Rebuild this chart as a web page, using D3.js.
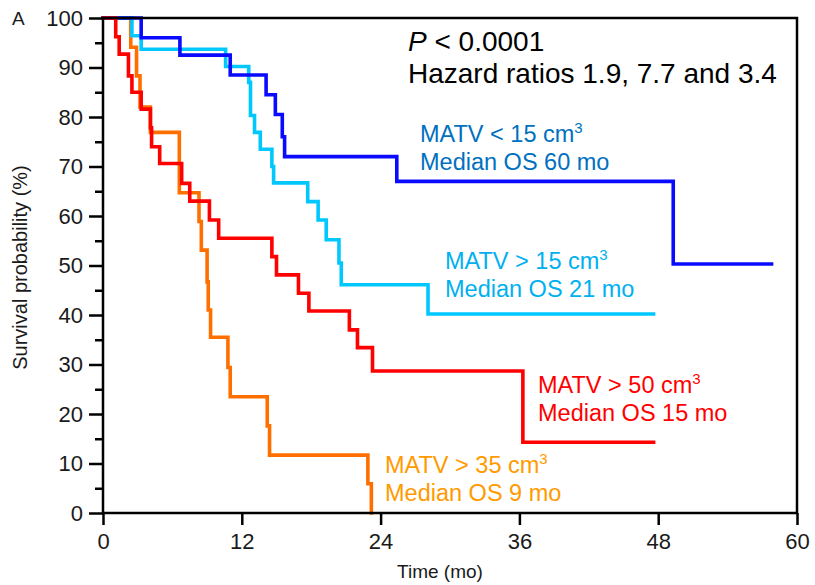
<!DOCTYPE html>
<html>
<head>
<meta charset="utf-8">
<script src="https://cdn.jsdelivr.net/npm/d3@7"></script>
<style>
  body { margin: 0; background: #fff; }
  svg text { font-family: "Liberation Sans", Arial, sans-serif; }
</style>
</head>
<body>
<div id="chart"></div>
<script>
var w = 815, h = 585;
var margin = { top: 18, right: 18, bottom: 72, left: 103 };

// Kaplan-Meier step data (time in months, survival in %)
var blueTimes = [0, 3.3, 6.65, 11.0, 14.1, 14.9, 15.5, 15.7, 25.4, 49.3, 57.8];
var blueSurv = [100, 96, 92.5, 88.5, 84.5, 80.5, 76, 72, 67, 50.3, 50.3];

var cyanTimes = [0, 2.5, 3.3, 10.6, 12.6, 12.75, 13.1, 13.6, 14.6, 14.75, 17.7, 18.6, 19.3, 20.4, 20.6, 28.1, 47.6];
var cyanSurv = [100, 96.4, 93.7, 90.2, 87.0, 80.3, 76.9, 73.5, 70, 66.7, 62.9, 59.2, 55.2, 50.5, 46.1, 40.2, 40.2];

var redTimes = [0, 1.1, 1.4, 2.2, 2.5, 3.3, 4.1, 4.2, 4.9, 6.8, 7.5, 9.2, 10.0, 14.6, 15.0, 16.9, 17.8, 21.3, 22.0, 23.3, 36.3, 47.6];
var redSurv = [100, 96.2, 92.7, 88.3, 85, 81.6, 77.8, 74, 70.6, 66.6, 63, 59.2, 55.5, 51.8, 48.1, 44.4, 40.8, 37, 33.4, 28.7, 14.3, 14.3];

var orangeTimes = [0, 2.4, 2.9, 3.2, 4.1, 6.6, 8.3, 8.5, 9.0, 9.1, 9.3, 10.8, 11.0, 14.2, 14.4, 22.9, 23.2];
var orangeSurv = [100, 94.1, 88.3, 82, 76.9, 64.7, 58.9, 53.1, 46.7, 41, 35.5, 29.4, 23.5, 17.6, 11.7, 5.9, 0];

var xTicks = [0, 12, 24, 36, 48, 60];
var yTicks = [0, 10, 20, 30, 40, 50, 60, 70, 80, 90, 100];
var yMinor = [5, 15, 25, 35, 45, 55, 65, 75, 85, 95];

var svg = d3.select('#chart').append('svg')
  .attr('width', w)
  .attr('height', h);

var x = d3.scaleLinear().domain([0, 60]).range([margin.left, w - margin.right]);
var y = d3.scaleLinear().domain([0, 100]).range([h - margin.bottom, margin.top]);

var line = d3.line()
  .x(function (d) { return x(d[0]); })
  .y(function (d) { return y(d[1]); })
  .curve(d3.curveStepAfter);

function pairs(t, s) {
  return t.map(function (v, i) { return [v, s[i]]; });
}

// curves (orange at the bottom, red on top)
var curves = [
  { data: pairs(orangeTimes, orangeSurv), color: '#ff6f00' },
  { data: pairs(cyanTimes, cyanSurv), color: '#00c8ff' },
  { data: pairs(blueTimes, blueSurv), color: '#0a0aff' },
  { data: pairs(redTimes, redSurv), color: '#ff0000' }
];

svg.selectAll('path.km')
  .data(curves)
  .enter()
  .append('path')
  .attr('class', 'km')
  .attr('d', function (d) { return line(d.data); })
  .attr('fill', 'none')
  .attr('stroke', function (d) { return d.color; })
  .attr('stroke-width', 3.6)
  .attr('stroke-linejoin', 'miter')
  .attr('stroke-linecap', 'square');

// frame
svg.append('rect')
  .attr('x', x(0))
  .attr('y', y(100))
  .attr('width', x(60) - x(0))
  .attr('height', y(0) - y(100))
  .attr('fill', 'none')
  .attr('stroke', '#000')
  .attr('stroke-width', 2.5);

// axes
svg.append('g')
  .attr('transform', 'translate(' + x(0) + ',0)')
  .call(d3.axisLeft(y).tickValues(yTicks).tickSize(14).tickPadding(6));
svg.append('g')
  .attr('transform', 'translate(' + x(0) + ',0)')
  .call(d3.axisLeft(y).tickValues(yMinor).tickSize(8).tickFormat(''));

svg.append('g')
  .attr('transform', 'translate(0,' + y(0) + ')')
  .call(d3.axisBottom(x).tickValues(xTicks).tickSize(12).tickPadding(8));

svg.selectAll('.domain').remove();
svg.selectAll('.tick line').attr('stroke', '#000').attr('stroke-width', 2.5);
svg.selectAll('.tick text')
  .attr('fill', '#1a1a1a')
  .style('font-size', '22px')
  .style('font-family', '"Liberation Sans", Arial, sans-serif');

// axis titles
svg.append('text')
  .attr('x', (x(0) + x(60)) / 2 - 10)
  .attr('y', 578)
  .attr('text-anchor', 'middle')
  .style('font-size', '19px')
  .attr('fill', '#1a1a1a')
  .text('Time (mo)');

svg.append('text')
  .attr('transform', 'translate(27,' + (y(50) + 2) + ') rotate(-90)')
  .attr('text-anchor', 'middle')
  .style('font-size', '20px')
  .attr('fill', '#1a1a1a')
  .text('Survival probability (%)');

svg.append('text')
  .attr('x', 12)
  .attr('y', 25)
  .style('font-size', '19px')
  .attr('fill', '#1a1a1a')
  .text('A');

// stats
var p = svg.append('text')
  .attr('x', 408)
  .attr('y', 51)
  .style('font-size', '28px')
  .attr('fill', '#000');
p.append('tspan').style('font-style', 'italic').text('P');
p.append('tspan').text(' < 0.0001');

svg.append('text')
  .attr('x', 408)
  .attr('y', 83)
  .style('font-size', '28px')
  .attr('fill', '#000')
  .text('Hazard ratios 1.9, 7.7 and 3.4');

// group labels
var labels = [
  { x: 420, y: 142, color: '#0070c0', l1: 'MATV < 15 cm', l2: 'Median OS 60 mo' },
  { x: 445, y: 269, color: '#00b0f0', l1: 'MATV > 15 cm', l2: 'Median OS 21 mo' },
  { x: 538, y: 393, color: '#ff0000', l1: 'MATV > 50 cm', l2: 'Median OS 15 mo' },
  { x: 385, y: 473, color: '#ff9a00', l1: 'MATV > 35 cm', l2: 'Median OS 9 mo' }
];

labels.forEach(function (d) {
  var t = svg.append('text')
    .attr('x', d.x)
    .attr('y', d.y)
    .style('font-size', '23.5px')
    .attr('fill', d.color);
  t.append('tspan').text(d.l1);
  t.append('tspan').attr('dy', -9).style('font-size', '15px').text('3');
  svg.append('text')
    .attr('x', d.x)
    .attr('y', d.y + 28)
    .style('font-size', '23.5px')
    .attr('fill', d.color)
    .text(d.l2);
});
</script>
</body>
</html>
